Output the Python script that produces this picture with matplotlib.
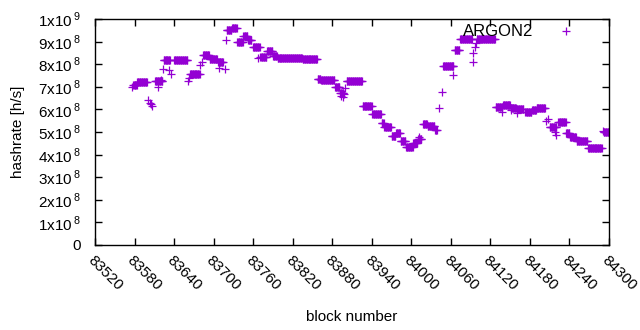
import numpy as np
import matplotlib
matplotlib.use("Agg")
import matplotlib.pyplot as plt

plt.rcParams['font.family'] = ['Liberation Sans', 'DejaVu Sans']
plt.rcParams['mathtext.fontset'] = 'custom'
plt.rcParams['mathtext.rm'] = 'Liberation Sans'

# runs of blocks with (nearly) the same hashrate: first block, last block, hashrate [1e8 h/s]
run_first = [83578, 83584, 83611, 83624, 83640, 83664, 83684, 83694, 83707, 83720,
             83728, 83736, 83745, 83752, 83760, 83771, 83781, 83790, 83797, 83835,
             83858, 83863, 83884, 83892, 83902, 83926, 83941, 83955, 83959, 83970,
             83977, 83984, 83992, 84003, 84010, 84018, 84025, 84036, 84048, 84066,
             84074, 84099, 84128, 84139, 84151, 84160, 84173, 84183, 84190, 84210,
             84223, 84235, 84241, 84251, 84268, 84292]
run_last = [83583, 83599, 83622, 83634, 83660, 83679, 83693, 83705, 83714, 83727,
            83735, 83744, 83751, 83757, 83770, 83780, 83789, 83796, 83834, 83857,
            83862, 83883, 83891, 83897, 83925, 83940, 83954, 83958, 83969, 83976,
            83983, 83991, 84002, 84009, 84015, 84024, 84035, 84039, 84064, 84073,
            84092, 84127, 84138, 84150, 84159, 84170, 84182, 84189, 84203, 84220,
            84234, 84240, 84250, 84267, 84289, 84300]
run_rate = [7.08, 7.22, 7.25, 8.19, 8.19, 7.57, 8.40, 8.22, 8.10, 9.50,
            9.60, 8.98, 9.25, 9.07, 8.76, 8.32, 8.57, 8.36, 8.26, 8.23,
            7.36, 7.30, 6.98, 6.73, 7.26, 6.15, 5.80, 5.40, 5.22, 4.82,
            4.96, 4.60, 4.34, 4.50, 4.70, 5.35, 5.27, 5.10, 7.92, 8.63,
            9.10, 9.10, 6.12, 6.20, 6.06, 6.00, 5.87, 5.97, 6.06, 5.22,
            5.43, 4.96, 4.78, 4.62, 4.29, 5.01]

# scattered single blocks
single_block = [83576, 83600, 83603, 83605, 83607, 83616, 83620, 83623, 83633, 83636,
                83661, 83663, 83679, 83682, 83708, 83717, 83719, 83767, 83894, 83896,
                83898, 83900, 84012, 84042, 84047, 84064, 84093, 84094, 84096, 84098,
                84137, 84152, 84160, 84205, 84208, 84218, 84220, 84291]
single_rate = [7.00, 6.42, 6.30, 6.22, 6.15, 7.00, 7.30, 7.79, 7.74, 7.55,
               7.26, 7.38, 7.96, 8.11, 7.85, 7.77, 9.07, 8.29, 6.60, 6.56,
               6.68, 6.95, 4.79, 6.06, 6.78, 7.52, 8.11, 8.48, 8.78, 8.92,
               5.90, 5.97, 5.84, 5.49, 5.56, 5.00, 4.87, 5.05]

blocks = []
rates = []
for a, b, r in zip(run_first, run_last, run_rate):
    n = b - a + 1
    blocks.extend(range(a, b + 1))
    rates.extend([r] * n)
blocks = np.array(blocks + single_block)
rates = np.array(rates + single_rate) * 1e8

xticks = list(range(83520, 84301, 60))
yticks = [i * 1e8 for i in range(11)]
ylabels = ['0'] + [r'%dx10$\,^{8}$' % i for i in range(1, 10)] + [r'1x10$\,^{9}$']

fig = plt.figure(figsize=(6.4, 3.3), dpi=100)
ax = fig.add_axes([95/640, 1 - 245/330, 514/640, 226/330])

ax.plot(blocks, rates, linestyle='none', marker='+', markersize=5.8,
        markeredgewidth=0.9, color='#9400D3', label='ARGON2')

ax.set_xlim(83520, 84300)
ax.set_ylim(0, 1e9)
ax.set_xticks(xticks)
ax.set_xticklabels([str(t) for t in xticks], rotation=-45, ha='left', va='top',
                   rotation_mode='anchor')
ax.set_yticks(yticks)
ax.set_yticklabels(ylabels)
ax.tick_params(direction='in', length=5, width=1, top=True, right=True,
               labelsize=11)
ax.tick_params(axis='y', pad=10)
ax.tick_params(axis='x', pad=6)
for s in ax.spines.values():
    s.set_linewidth(1)

ax.set_xlabel('block number', fontsize=11, labelpad=12)
ax.set_ylabel('hashrate [h/s]', fontsize=11, labelpad=9)

ax.legend(loc='upper right', frameon=False, markerfirst=False, fontsize=12,
          handlelength=1.5, handletextpad=1.2, bbox_to_anchor=(0.96, 1.02),
          borderaxespad=0.2)

fig.savefig('out.png', dpi=100)
